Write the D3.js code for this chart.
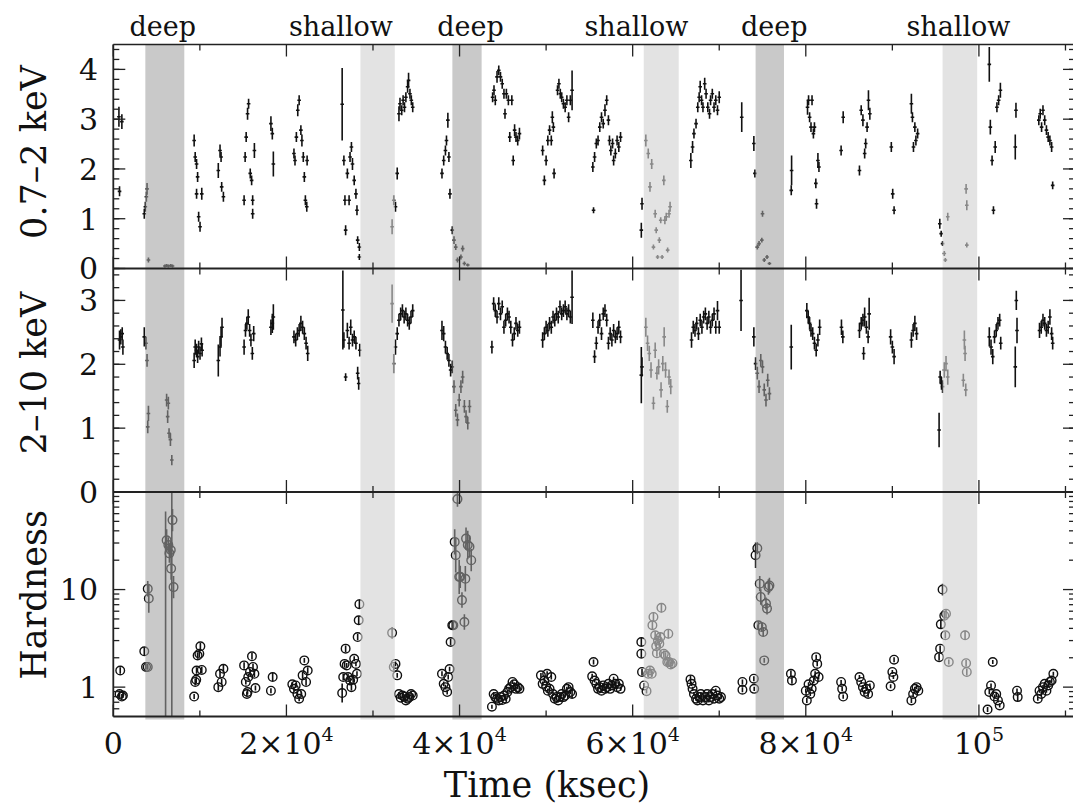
<!DOCTYPE html>
<meta charset="utf-8">
<style>
body { margin: 0; background: #fff; }
text { font-family: "DejaVu Serif", serif; fill: #111; }
.bar { stroke: #111; stroke-width: 1.6px; }
.frame { stroke: #222; fill: none; }
</style>
<body>
<svg id="graph"></svg>
<script src="https://cdn.jsdelivr.net/npm/d3@7"></script>
<script>

// ---- data: [time (ksec), rate, error] ----
var soft = [
  [650,3.05,0.2],[990,2.95,0.15],[720,1.55,0.1],
  [3580,1.1,0.1],[3700,1.24,0.1],[3820,1.44,0.1],[3900,1.6,0.12],[4060,0.17,0.05],
  [5960,0.05,0.03],[6160,0.06,0.03],[6360,0.05,0.03],[6640,0.06,0.03],[6840,0.05,0.03],
  [9340,2.57,0.12],[9460,2.24,0.1],[9620,2.1,0.1],[9740,1.84,0.1],[9620,1.5,0.1],[10220,1.5,0.12],[9860,1.04,0.1],[10020,0.84,0.1],
  [12130,1.97,0.15],[12330,2.37,0.12],[12450,2.24,0.1],[12520,1.64,0.1],[12720,1.44,0.1],
  [15110,1.37,0.1],[15230,2.24,0.1],[15350,2.64,0.1],[15510,3.11,0.12],[15630,3.31,0.1],[15820,1.91,0.1],[15980,1.77,0.1],[16100,1.37,0.1],[16100,1.1,0.1],[16300,2.37,0.15],
  [18210,2.91,0.15],[18370,2.71,0.12],[18490,2.1,0.25],
  [20870,2.31,0.1],[20990,2.17,0.1],[21150,2.64,0.1],[21310,3.18,0.12],[21470,3.38,0.1],[21670,2.78,0.1],[21790,2.57,0.12],[21950,2.24,0.1],[22070,1.84,0.1],[22190,1.37,0.1],[22350,1.24,0.1],[22390,2.17,0.1],
  [26440,3.3,0.73],[26640,2.17,0.1],[26760,1.37,0.1],[26840,0.77,0.1],[27040,1.91,0.1],[27240,1.37,0.1],[27350,2.24,0.1],[27510,2.44,0.1],[27630,2.1,0.12],[27830,1.77,0.1],[28030,1.5,0.1],[28150,1.17,0.1],[28230,0.57,0.08],[28430,0.43,0.08],[28430,0.23,0.06],
  [32210,0.84,0.15],[32400,1.37,0.1],[32600,1.24,0.1],[32800,1.91,0.12],[33000,3.11,0.15],[33120,3.31,0.12],[33320,3.18,0.1],[33480,3.38,0.1],[33640,3.24,0.1],[33800,3.44,0.1],[34000,3.65,0.12],[34110,3.78,0.15],[34270,3.51,0.1],[34430,3.38,0.1],[34590,3.24,0.1],
  [37970,1.91,0.1],[38170,2.17,0.1],[38370,2.37,0.1],[38490,2.57,0.1],[38650,2.98,0.15],[38770,2.24,0.1],[38890,1.5,0.1],[39160,0.77,0.08],[39360,0.57,0.08],[39560,0.43,0.06],[39760,0.17,0.05],[40160,0.23,0.05],[40360,0.4,0.06],[40560,0.1,0.04],[40950,0.07,0.03],
  [43820,3.44,0.1],[43980,3.58,0.1],[44130,3.38,0.1],[44330,3.85,0.12],[44530,3.98,0.1],[44730,3.85,0.1],[44930,3.71,0.1],[45130,3.51,0.1],[45250,3.11,0.1],[45410,3.51,0.1],[45640,3.38,0.1],[45800,2.64,0.1],[46040,3.38,0.1],[46200,2.17,0.1],[46360,2.78,0.12],[46520,2.64,0.1],[46720,2.57,0.1],[46920,2.71,0.12],
  [49600,2.37,0.1],[49800,1.77,0.1],[50000,2.17,0.1],[50200,2.57,0.1],[50400,2.78,0.1],[50600,2.57,0.1],[50720,3.04,0.12],[50840,2.84,0.1],[50920,1.91,0.1],
  [51320,3.58,0.1],[51480,3.71,0.1],[51640,3.51,0.1],[51800,3.44,0.1],[52000,3.31,0.1],[52200,3.24,0.1],[52400,3.38,0.1],[52600,3.04,0.1],[52800,3.38,0.1],[53000,3.58,0.4],
  [55400,2.04,0.1],[55480,1.17,0.06],[55600,2.24,0.1],[55800,2.51,0.1],[56000,2.57,0.1],[56200,2.84,0.1],[56400,3.04,0.1],[56600,2.91,0.1],[56800,3.18,0.12],[57000,3.38,0.1],[57200,2.98,0.1],[57320,2.57,0.1],[57480,2.37,0.1],[57680,2.51,0.1],[57800,2.17,0.1],[58000,2.31,0.1],[58200,2.57,0.1],[58400,2.44,0.1],[58600,2.64,0.1],
  [61000,0.77,0.15],[61080,1.3,0.12],[61520,2.57,0.12],[61800,2.31,0.1],[62000,1.64,0.1],[62200,2.1,0.1],[62400,0.43,0.05],[62600,1.1,0.08],[62720,0.77,0.06],[62880,0.23,0.04],[63080,0.57,0.06],[63240,0.97,0.06],[63400,0.23,0.04],[63600,1.77,0.1],[63720,0.97,0.08],[63880,1.04,0.08],[64040,0.37,0.05],[64200,1.1,0.08],[64320,1.24,0.1],
  [66720,2.17,0.15],[66920,2.44,0.12],[67080,2.71,0.1],[67320,2.91,0.1],[67520,3.24,0.1],[67680,3.44,0.1],[67800,3.65,0.12],[67960,3.38,0.1],[68120,3.24,0.1],[68320,3.71,0.12],[68480,3.51,0.1],[68680,3.24,0.1],[68880,3.11,0.1],[69000,3.38,0.1],[69200,3.51,0.1],[69400,3.24,0.1],[69600,3.38,0.1],[69800,3.18,0.1],[70000,3.44,0.12],
  [72600,3.04,0.3],
  [74000,2.51,0.15],[74120,1.91,0.08],[74400,0.43,0.05],[74600,0.5,0.05],[75000,1.1,0.06],[74920,0.57,0.05],[75200,0.17,0.04],[75520,0.23,0.04],[75800,0.1,0.03],
  [78360,1.97,0.3],[78320,1.57,0.1],
  [80200,3.24,0.15],[80320,3.38,0.1],[80440,3.04,0.1],[80600,2.84,0.1],[80720,3.38,0.1],[80880,2.71,0.1],[81000,2.84,0.1],[81160,1.71,0.1],[81240,1.3,0.1],[81400,2.17,0.15],[81520,2.04,0.1],
  [84080,2.37,0.1],[84320,3.04,0.12],
  [86200,1.97,0.1],[86400,3.18,0.1],[86600,2.98,0.12],[86800,2.31,0.1],[86920,2.51,0.1],[87080,2.84,0.1],[87240,3.38,0.2],[87400,3.11,0.12],
  [89880,2.44,0.1],[90040,1.5,0.1],[90200,1.17,0.08],
  [92200,3.31,0.2],[92320,3.04,0.1],[92440,2.44,0.1],[92600,2.84,0.1],[92720,2.57,0.1],[92920,2.71,0.1],
  [95480,0.9,0.1],[95640,0.7,0.06],[95800,0.5,0.05],[96000,0.3,0.05],[96120,0.17,0.04],[96400,1.04,0.08],[98520,1.6,0.1],[98600,1.27,0.1],[98600,0.47,0.05],
  [101200,4.1,0.35],[101320,2.84,0.15],[101520,2.17,0.1],[101680,1.17,0.08],[101880,2.44,0.12],[102080,3.24,0.1],[102280,3.38,0.1],[102480,3.58,0.15],
  [104280,3.18,0.15],[104200,2.44,0.25],
  [106920,2.98,0.1],[107080,3.11,0.1],[107240,2.84,0.1],[107400,3.18,0.1],[107600,2.98,0.1],[107800,2.78,0.1],[108000,2.64,0.1],[108200,2.57,0.1],[108400,2.44,0.1],[108520,1.67,0.08]
];

var hard = [
  [720,2.38,0.15],[870,2.43,0.12],[1030,2.48,0.1],[1110,2.27,0.12],
  [3580,2.43,0.15],[3780,2.33,0.1],[3900,2.06,0.1],[4060,1.23,0.12],[3980,1.02,0.1],
  [6160,1.44,0.1],[6280,1.18,0.1],[6360,1.39,0.1],[6440,0.92,0.08],[6600,0.82,0.1],[6760,0.5,0.08],
  [9340,2.06,0.12],[9460,2.27,0.12],[9620,2.22,0.1],[9740,2.12,0.1],[9860,2.27,0.1],[10020,2.17,0.1],[10180,2.32,0.1],[10260,2.22,0.1],
  [12130,2.06,0.25],[12330,2.27,0.15],[12450,2.43,0.15],[12560,2.58,0.15],
  [15110,2.27,0.12],[15270,2.53,0.1],[15430,2.64,0.1],[15590,2.74,0.12],[15750,2.53,0.1],[15900,2.38,0.1],[16060,2.17,0.1],[16220,2.48,0.12],
  [18210,2.58,0.12],[18370,2.64,0.15],[18490,2.74,0.2],
  [20870,2.43,0.1],[21070,2.38,0.1],[21270,2.48,0.1],[21470,2.53,0.1],[21670,2.64,0.12],[21870,2.58,0.1],[22070,2.48,0.1],[22270,2.33,0.1],[22460,2.17,0.12],
  [26520,2.85,0.62],[26640,2.38,0.12],[26840,1.8,0.06],[27040,2.53,0.12],[27240,2.33,0.1],[27430,2.58,0.12],[27630,2.38,0.1],[27830,2.43,0.1],[28030,2.33,0.1],[28230,1.86,0.1],[28350,1.7,0.1],[28470,2.22,0.1],
  [32210,2.95,0.3],[32400,2.01,0.15],[32600,2.27,0.12],[32800,2.48,0.1],[33000,2.69,0.1],[33200,2.79,0.1],[33400,2.84,0.1],[33600,2.74,0.1],[33800,2.79,0.1],[34000,2.69,0.1],[34190,2.64,0.1],[34390,2.74,0.1],[34590,2.84,0.1],
  [37970,2.53,0.15],[38170,2.48,0.12],[38370,2.27,0.1],[38570,2.17,0.1],[38770,2.06,0.1],[38970,1.91,0.1],[39160,1.96,0.1],[39360,1.65,0.1],[39560,1.28,0.1],[39760,1.13,0.1],[39960,1.44,0.1],[40160,1.65,0.1],[40360,1.8,0.1],[40560,1.34,0.1],[40750,1.18,0.1],[40950,1.08,0.1],[41150,1.34,0.1],
  [43740,2.27,0.1],[43940,2.95,0.1],[44130,2.84,0.1],[44330,2.74,0.1],[44530,2.95,0.1],[44730,2.79,0.1],[44930,2.9,0.1],[45130,2.58,0.1],[45330,2.69,0.1],[45530,2.79,0.1],[45720,2.74,0.1],[45920,2.58,0.1],[46120,2.38,0.1],[46320,2.48,0.1],[46520,2.64,0.1],[46720,2.53,0.1],[46920,2.58,0.1],
  [49600,2.38,0.12],[49800,2.48,0.1],[50000,2.58,0.1],[50200,2.53,0.1],[50400,2.64,0.1],[50600,2.58,0.1],[50800,2.74,0.1],[51000,2.69,0.1],[51200,2.79,0.1],[51400,2.74,0.1],[51600,2.9,0.1],[51800,2.79,0.1],[52000,2.84,0.1],[52200,2.9,0.1],[52400,2.79,0.1],[52600,2.84,0.1],[52800,2.74,0.1],[53000,3.05,0.42],
  [55400,2.69,0.12],[55600,2.12,0.1],[55800,2.33,0.1],[56000,2.58,0.1],[56200,2.69,0.1],[56400,2.48,0.1],[56600,2.79,0.1],[56800,2.84,0.1],[57000,2.69,0.1],[57200,2.33,0.1],[57400,2.48,0.1],[57600,2.38,0.1],[57800,2.53,0.1],[58000,2.43,0.1],[58200,2.48,0.1],[58400,2.58,0.1],[58600,2.43,0.1],
  [61000,1.83,0.44],[61080,1.96,0.15],[61520,2.58,0.15],[61720,2.33,0.12],[61920,2.17,0.12],[62120,1.91,0.12],[62400,1.39,0.1],[62600,2.22,0.12],[62800,1.86,0.1],[63000,1.96,0.12],[63280,1.6,0.12],[63480,2.01,0.12],[63640,2.43,0.15],[63800,1.91,0.12],[64000,1.34,0.1],[64200,1.8,0.12],[64400,1.65,0.12],
  [66800,2.38,0.12],[67000,2.58,0.1],[67200,2.53,0.1],[67400,2.64,0.1],[67600,2.48,0.1],[67800,2.69,0.1],[68000,2.58,0.1],[68200,2.74,0.1],[68400,2.79,0.1],[68600,2.64,0.1],[68800,2.74,0.1],[69000,2.58,0.1],[69200,2.69,0.1],[69400,2.79,0.1],[69600,2.58,0.1],[69800,2.84,0.15],[70000,2.58,0.1],
  [72520,3.0,0.48],
  [74000,2.43,0.15],[74200,2.01,0.1],[74400,1.86,0.1],[74600,1.65,0.1],[74800,2.06,0.1],[75000,1.96,0.1],[75200,1.6,0.1],[75400,1.44,0.1],[75600,1.75,0.1],[75800,1.54,0.1],
  [78320,2.27,0.35],
  [80120,2.84,0.12],[80280,2.74,0.1],[80440,2.64,0.1],[80600,2.53,0.1],[80800,2.48,0.1],[81000,2.33,0.1],[81200,2.22,0.1],[81400,2.38,0.1],[81600,2.58,0.12],
  [84120,2.58,0.12],[84280,2.43,0.1],
  [86200,2.53,0.12],[86400,2.64,0.1],[86600,2.69,0.1],[86680,2.17,0.1],[86800,2.74,0.15],[87000,2.58,0.1],[87200,2.43,0.1],[87320,2.79,0.25],
  [89800,2.43,0.12],[90000,2.27,0.1],[90200,2.12,0.12],
  [92200,2.38,0.12],[92400,2.53,0.1],[92600,2.64,0.12],[92800,2.48,0.1],
  [95400,0.97,0.27],[95520,1.8,0.1],[95680,1.7,0.1],[95800,1.65,0.1],[96000,1.91,0.12],[96200,2.01,0.12],[96400,1.8,0.12],[98320,2.38,0.15],[98400,2.17,0.12],[98200,1.75,0.1],[98480,1.6,0.1],
  [101200,2.43,0.15],[101400,2.27,0.12],[101600,2.12,0.12],[101800,2.43,0.1],[102000,2.53,0.1],[102200,2.64,0.1],[102400,2.69,0.1],[102520,2.33,0.1],
  [104320,3.0,0.15],[104400,2.53,0.2],[104200,1.96,0.32],
  [107000,2.53,0.12],[107200,2.58,0.1],[107400,2.69,0.1],[107600,2.64,0.1],[107800,2.53,0.1],[108000,2.58,0.1],[108200,2.74,0.12],[108400,2.48,0.1],[108520,2.33,0.1]
];

// [time, hardness, error factor]
var hardness = [
  [800,1.48,1.08],[720,0.85,1.08],[990,0.8,1.06],[1110,0.82,1.06],
  [3580,2.33,1.1],[3780,1.61,1.07],[3980,1.61,1.07],[3980,10.2,1.2],[4100,8.1,1.4],
  [6160,32,1.3],[6360,28.6,1.2],[6480,23.5,1.25],[6640,25.4,1.2],[6680,16.4,1.3],[6840,51.5,1.3],[6960,10.6,1.3],
  [9340,0.8,1.06],[9460,1.13,1.08],[9620,1.48,1.08],[9740,2.11,1.08],[9940,2.2,1.08],[10060,2.62,1.08],[10220,1.5,1.08],[9580,1.19,1.08],
  [12130,1.0,1.08],[12330,1.37,1.08],[12520,1.13,1.08],[12720,1.54,1.1],
  [15110,1.67,1.08],[15310,1.13,1.06],[15430,0.85,1.06],[15590,1.27,1.08],[15790,1.43,1.08],[16020,2.07,1.08],[16140,1.61,1.08],[16300,1.37,1.08],[16420,0.98,1.06],[15510,0.89,1.06],
  [18210,0.92,1.06],[18410,1.27,1.1],
  [20680,1.07,1.06],[20870,0.96,1.06],[21070,1.04,1.06],[21270,0.85,1.06],[21470,0.76,1.06],[21710,0.85,1.06],[21870,1.32,1.08],[22070,1.88,1.06],[22270,1.13,1.08],[22460,1.48,1.08],
  [26440,0.87,1.25],[26560,1.27,1.08],[26720,1.73,1.08],[26840,2.48,1.08],[26960,1.67,1.06],[27120,1.27,1.08],[27360,1.17,1.06],[27510,1.0,1.08],[27710,1.19,1.06],[27830,1.95,1.06],[28030,1.73,1.06],[28150,1.37,1.06],[28230,3.26,1.08],[28350,4.84,1.1],[28430,7.08,1.12],
  [32210,3.6,1.15],[32400,1.61,1.08],[32600,1.73,1.06],[32800,1.32,1.06],[33000,0.85,1.05],[33200,0.78,1.05],[33400,0.82,1.05],[33600,0.8,1.05],[33800,0.73,1.05],[34000,0.76,1.05],[34190,0.79,1.05],[34400,0.85,1.05],[34590,0.82,1.05],
  [37970,1.37,1.06],[38170,1.08,1.06],[38370,1.0,1.06],[38570,0.89,1.06],[38690,1.27,1.06],[38850,1.53,1.06],[38970,2.9,1.08],[39160,4.3,1.1],[39280,4.3,1.1],[39440,30.8,1.35],[39560,22.5,1.5],[39760,84.7,1.2],[39960,13.5,1.5],[40080,13.5,1.3],[40280,7.8,1.2],[40560,4.65,1.2],[40670,12.9,1.35],[40750,33.3,1.3],[40950,28.6,1.4],[41150,27.5,1.3],[41350,20,1.3],
  [43740,0.63,1.05],[43940,0.85,1.05],[44130,0.79,1.05],[44330,0.76,1.05],[44530,0.73,1.05],[44730,0.79,1.05],[44930,0.74,1.05],[45130,0.82,1.05],[45330,0.76,1.05],[45530,0.89,1.05],[45720,0.96,1.05],[45920,1.0,1.05],[46120,1.13,1.05],[46320,1.07,1.05],[46520,0.96,1.05],[46720,1.0,1.05],[46920,0.96,1.05],
  [49400,1.32,1.06],[49600,1.08,1.06],[49800,1.17,1.06],[50000,1.02,1.05],[50120,1.37,1.06],[50200,0.92,1.05],[50400,0.96,1.05],[50600,1.27,1.06],[50800,0.85,1.05],[51000,0.76,1.05],[51200,0.79,1.05],[51400,0.73,1.05],[51600,0.79,1.05],[51800,0.85,1.05],[52000,0.79,1.05],[52200,0.82,1.05],[52400,0.96,1.05],[52600,1.0,1.05],[52800,0.89,1.05],[53000,0.85,1.1],
  [55480,1.81,1.06],[55320,1.29,1.06],[55600,1.17,1.05],[55800,1.08,1.05],[56000,0.96,1.05],[56200,1.0,1.05],[56400,0.92,1.05],[56600,1.04,1.05],[56800,0.96,1.05],[57000,1.0,1.05],[57200,1.08,1.05],[57400,0.96,1.05],[57600,1.04,1.05],[57800,1.22,1.05],[58000,1.08,1.05],[58200,1.0,1.05],[58400,1.08,1.05],[58600,0.96,1.05],
  [61000,2.9,1.1],[61000,2.2,1.1],[61080,1.43,1.08],[61320,1.04,1.06],[61600,0.91,1.06],[61800,1.37,1.08],[62000,1.48,1.08],[62200,1.37,1.08],[62280,4.3,1.1],[62400,5.24,1.1],[62600,3.4,1.1],[62720,2.62,1.08],[62800,2.23,1.08],[62920,3.0,1.1],[63080,2.79,1.08],[63200,3.26,1.1],[63320,6.5,1.12],[63600,2.2,1.08],[63800,2.11,1.08],[64000,1.81,1.08],[64120,3.53,1.12],[64200,1.81,1.08],[64400,1.71,1.08],[64600,1.76,1.08],
  [66680,1.2,1.1],[66800,1.08,1.05],[66920,0.96,1.05],[67080,0.85,1.05],[67320,0.76,1.05],[67480,0.73,1.05],[67720,0.79,1.05],[67880,0.85,1.05],[68120,0.73,1.05],[68400,0.79,1.05],[68600,0.85,1.05],[68800,0.73,1.05],[69000,0.79,1.05],[69200,0.85,1.05],[69400,0.76,1.05],[69600,0.92,1.05],[69800,0.82,1.05],[70000,0.76,1.05],[70200,0.79,1.05],
  [72680,1.13,1.06],[72680,0.94,1.06],[74000,1.22,1.06],[74040,0.96,1.05],
  [74200,22.5,1.35],[74400,26.5,1.15],[74520,4.3,1.1],[74680,11.5,1.2],[74800,8.4,1.2],[74920,4.13,1.1],[75080,3.67,1.1],[75200,1.88,1.06],[75400,7.2,1.15],[75520,6.38,1.15],[75680,10.6,1.2],[75800,11.0,1.2],
  [78280,1.37,1.08],[78400,1.17,1.08],
  [80000,0.92,1.05],[80120,0.73,1.06],[80320,1.07,1.05],[80520,0.85,1.05],[80680,0.96,1.05],[80920,1.17,1.06],[81080,1.37,1.06],[81200,2.03,1.06],[81320,1.73,1.06],[81480,1.27,1.06],
  [84080,1.13,1.05],[84200,0.96,1.05],[84320,0.8,1.05],
  [86200,1.27,1.05],[86400,1.13,1.05],[86600,1.0,1.05],[86800,0.89,1.05],[87000,0.96,1.05],[87200,0.85,1.08],[87400,1.04,1.05],
  [89800,1.02,1.05],[90000,1.43,1.05],[90200,1.91,1.06],[90120,1.27,1.05],
  [92200,0.73,1.06],[92400,0.85,1.05],[92600,0.96,1.05],[92800,1.0,1.05],[93000,0.92,1.05],
  [95400,2.03,1.08],[95520,2.48,1.08],[95600,4.4,1.1],[95800,10,1.15],[96000,5.4,1.1],[96200,5.66,1.1],[96120,3.4,1.08],[96520,1.81,1.06],[98400,3.4,1.12],[98520,1.76,1.08],[98600,1.43,1.08],
  [101000,0.59,1.06],[101200,0.89,1.05],[101400,1.04,1.05],[101600,1.81,1.05],[101800,0.8,1.05],[102000,0.85,1.05],[102200,0.73,1.05],[102400,0.65,1.05],
  [104400,0.92,1.05],[104480,0.79,1.1],
  [106800,0.76,1.05],[107000,0.92,1.05],[107200,0.85,1.05],[107400,1.0,1.05],[107600,1.08,1.05],[107800,0.92,1.05],[108000,1.04,1.05],[108200,1.13,1.05],[108400,1.17,1.05],[108600,1.37,1.05]
];

// very long hardness error bars: [time, low, high]
var hardnessLong = [[6040, 0.5, 63], [6760, 0.5, 100]];

var deepBands = [[3700, 8200], [39170, 42550], [74200, 77480]];
var shallowBands = [[28550, 32520], [61280, 65320], [95800, 99800]];
var bandNames = ["deep", "shallow", "deep", "shallow", "deep", "shallow"];
var bandNameTimes = [5725, 26300, 41270, 60440, 76360, 97640];

var xTickVals = [0, 20000, 40000, 60000, 80000, 100000];
var xTickBase = ["0", "2×10", "4×10", "6×10", "8×10", "10"];
var xTickSup = ["", "4", "4", "4", "4", "5"];
var yTicks1 = [0, 1, 2, 3, 4];
var yTicks2 = [0, 1, 2, 3];
var yTicks3 = [1, 10];
var yTitles = ["0.7–2 keV", "2–10 keV", "Hardness"];

// ---- layout ----
var left = 113.3, right = 1075;
var x = d3.scaleLinear().domain([0, 111100]).range([left, right]);

var panels = [
  {top: 44.5, bottom: 268.5, y: d3.scaleLinear().domain([0, 4.5]).range([268.5, 44.5]),
   major: yTicks1, minor: d3.range(0, 4.41, 0.2), labels: yTicks1, tc: 152},
  {top: 268.5, bottom: 492, y: d3.scaleLinear().domain([0, 3.5]).range([492, 268.5]),
   major: yTicks2, minor: d3.range(0, 3.41, 0.2), labels: yTicks2, tc: 373},
  {top: 492, bottom: 716.5, y: d3.scaleLog().domain([0.5, 100]).range([716.5, 492]),
   major: [1, 10, 100], minor: [0.6,0.7,0.8,0.9,2,3,4,5,6,7,8,9,20,30,40,50,60,70,80,90], labels: yTicks3, tc: 595}
];

var svg = d3.select("#graph").attr("width", 1073).attr("height", 804);

var defs = svg.append("defs");
panels.forEach(function(p, i) {
  defs.append("clipPath").attr("id", "clip" + i).append("rect")
    .attr("x", left).attr("y", p.top).attr("width", right - left).attr("height", p.bottom - p.top);
});

// rate panels: error bar plus a short dash at the value
function drawRates(data, p, i) {
  var g = svg.append("g").attr("clip-path", "url(#clip" + i + ")");
  g.selectAll(".bar").data(data).enter().append("line")
    .attr("class", "bar")
    .attr("x1", function(d) { return x(d[0]); })
    .attr("x2", function(d) { return x(d[0]); })
    .attr("y1", function(d) { return p.y(Math.max(0, d[1] - d[2])); })
    .attr("y2", function(d) { return p.y(d[1] + d[2]); });
  g.selectAll(".pt").data(data).enter().append("line")
    .attr("class", "bar pt")
    .attr("x1", function(d) { return x(d[0]) - 1.8; })
    .attr("x2", function(d) { return x(d[0]) + 1.8; })
    .attr("y1", function(d) { return p.y(d[1]); })
    .attr("y2", function(d) { return p.y(d[1]); });
}
drawRates(soft, panels[0], 0);
drawRates(hard, panels[1], 1);

// hardness panel
var p3 = panels[2];
var g3 = svg.append("g").attr("clip-path", "url(#clip2)");
g3.selectAll(".long").data(hardnessLong).enter().append("line")
  .attr("class", "bar")
  .attr("x1", function(d) { return x(d[0]); })
  .attr("x2", function(d) { return x(d[0]); })
  .attr("y1", function(d) { return p3.y(d[1]); })
  .attr("y2", function(d) { return p3.y(d[2]); });
g3.selectAll(".err").data(hardness).enter().append("line")
  .attr("class", "bar")
  .attr("x1", function(d) { return x(d[0]); })
  .attr("x2", function(d) { return x(d[0]); })
  .attr("y1", function(d) { return p3.y(d[1] / d[2]); })
  .attr("y2", function(d) { return p3.y(d[1] * d[2]); });
g3.selectAll("circle").data(hardness).enter().append("circle")
  .attr("cx", function(d) { return x(d[0]); })
  .attr("cy", function(d) { return p3.y(d[1]); })
  .attr("r", 4.3)
  .style("fill", "none")
  .style("stroke", "#111")
  .style("stroke-width", 1.4);

// shaded intervals, laid over the data
svg.selectAll(".deep").data(deepBands).enter().append("rect")
  .attr("x", function(d) { return x(d[0]); })
  .attr("width", function(d) { return x(d[1]) - x(d[0]); })
  .attr("y", 44.5).attr("height", 719.5 - 44.5)
  .style("fill", "#a0a0a0").style("opacity", 0.57);
svg.selectAll(".shallow").data(shallowBands).enter().append("rect")
  .attr("x", function(d) { return x(d[0]); })
  .attr("width", function(d) { return x(d[1]) - x(d[0]); })
  .attr("y", 44.5).attr("height", 719.5 - 44.5)
  .style("fill", "#d2d2d2").style("opacity", 0.62);

svg.selectAll(".bandname").data(bandNames).enter().append("text")
  .attr("x", function(d, i) { return x(bandNameTimes[i]); })
  .attr("y", 36)
  .attr("text-anchor", "middle")
  .style("font-size", "27px")
  .text(function(d) { return d; });

// ticks, pointing into every panel from all four sides
var xTicks = d3.range(0, 111001, 10000);
panels.forEach(function(p, i) {
  [[p.top, 1], [p.bottom, -1]].forEach(function(e) {
    var base = e[0], dir = e[1];
    svg.append("g").selectAll("line").data(xTicks).enter().append("line")
      .attr("x1", function(d) { return x(d); })
      .attr("x2", function(d) { return x(d); })
      .attr("y1", base)
      .attr("y2", function(d) { return base + dir * (d % 20000 === 0 ? 12 : 6); })
      .style("stroke", "#222").style("stroke-width", 1.3);
  });
  var yt = p.major.map(function(v) { return [v, 12]; }).concat(p.minor.map(function(v) { return [v, 6]; }))
    .filter(function(d) { return p.y(d[0]) <= p.bottom + 0.1 && p.y(d[0]) >= p.top - 0.1; });
  [[left, 1], [right, -1]].forEach(function(e) {
    svg.append("g").selectAll("line").data(yt).enter().append("line")
      .attr("x1", e[0])
      .attr("x2", function(d) { return e[0] + e[1] * d[1]; })
      .attr("y1", function(d) { return p.y(d[0]); })
      .attr("y2", function(d) { return p.y(d[0]); })
      .style("stroke", "#222").style("stroke-width", 1.3);
  });
  svg.append("g").selectAll("text").data(p.labels).enter().append("text")
    .attr("x", 98)
    .attr("y", function(d) { return p.y(d); })
    .attr("dy", "0.36em")
    .attr("text-anchor", "end")
    .style("font-size", "30px")
    .text(function(d) { return d; });
  svg.append("text")
    .attr("transform", "translate(46," + p.tc + ") rotate(-90)")
    .attr("text-anchor", "middle")
    .style("font-size", "35px")
    .text(yTitles[i]);
});

// frame
[[44.5, 1.6], [268.5, 2.2], [492, 2.2], [716.5, 1.8]].forEach(function(h) {
  svg.append("line").attr("class", "frame")
    .attr("x1", left).attr("x2", right).attr("y1", h[0]).attr("y2", h[0])
    .style("stroke-width", h[1]);
});
svg.append("line").attr("class", "frame")
  .attr("x1", left).attr("x2", left).attr("y1", 44.5).attr("y2", 716.5).style("stroke-width", 1.8);

// x tick labels
var xl = svg.append("g").selectAll("text").data(xTickVals).enter().append("text")
  .attr("x", function(d) { return x(d); })
  .attr("y", 754)
  .attr("text-anchor", "middle")
  .style("font-size", "30px");
xl.append("tspan").text(function(d, i) { return xTickBase[i]; });
xl.append("tspan")
  .attr("dy", -13)
  .style("font-size", "19px")
  .text(function(d, i) { return xTickSup[i]; });

svg.append("text")
  .attr("x", 547)
  .attr("y", 797)
  .attr("text-anchor", "middle")
  .style("font-size", "35px")
  .text("Time (ksec)");

</script>
</body>
